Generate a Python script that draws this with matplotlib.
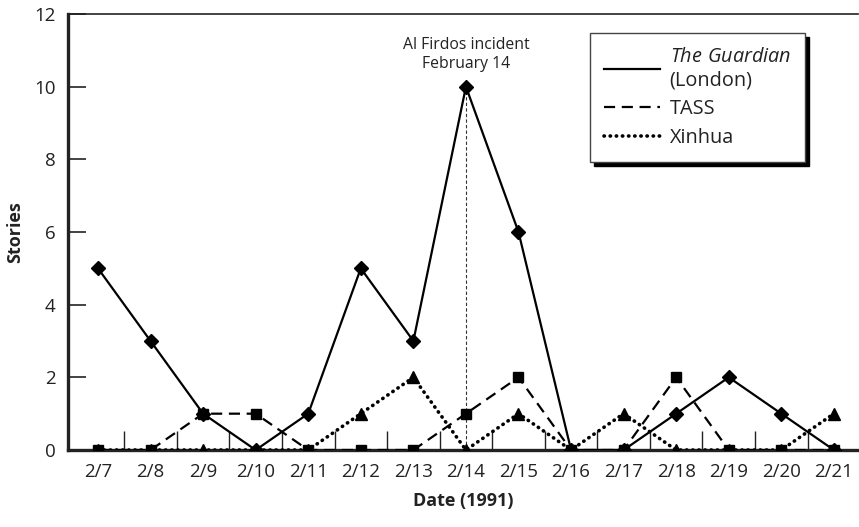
import numpy as np
import matplotlib
matplotlib.use("Agg")
import matplotlib.pyplot as plt
from matplotlib.ticker import MultipleLocator, FixedLocator

plt.rcParams['font.family'] = ['Open Sans', 'DejaVu Sans']
plt.rcParams['mathtext.fontset'] = 'custom'
plt.rcParams['mathtext.it'] = 'Open Sans:italic'
plt.rcParams['mathtext.rm'] = 'Open Sans'

# dados
datas = ['2/7', '2/8', '2/9', '2/10', '2/11', '2/12', '2/13', '2/14',
         '2/15', '2/16', '2/17', '2/18', '2/19', '2/20', '2/21']
guardian = [5, 3, 1, 0, 1, 5, 3, 10, 6, 0, 0, 1, 2, 1, 0]
tass = [0, 0, 1, 1, 0, 0, 0, 1, 2, 0, 0, 2, 0, 0, 0]
xinhua = [0, 0, 0, 0, 0, 1, 2, 0, 1, 0, 1, 0, 0, 0, 1]

x = np.arange(len(datas))

fig = plt.figure(figsize=(8.59, 5.27), dpi=100)
ax = fig.add_axes([0.0792, 0.1461, 0.9197, 0.8273])

ax.plot(x, guardian, color='black', lw=1.6, marker='D', ms=7,
        label='$\\it{The\\ Guardian}$\n(London)', zorder=4)
ax.plot(x, tass, color='black', lw=1.6, ls=(0, (5, 3)), marker='s', ms=7,
        label='TASS', zorder=3)
ax.plot(x, xinhua, color='black', lw=2.6, ls=(0, (0.1, 1.6)),
        dash_capstyle='round', marker='^', ms=8, label='Xinhua', zorder=3)

# linha do incidente
i14 = datas.index('2/14')
ax.plot([x[i14], x[i14]], [0, guardian[i14]], color='#333333', lw=0.8,
        ls=(0, (3, 2)), zorder=2)
ax.text(x[i14], 10.4, 'Al Firdos incident\nFebruary 14', ha='center',
        va='bottom', fontsize=11.3, linespacing=1.3, color='#222222')

ax.set_xlim(-0.57, 14.46)
ax.set_ylim(0, 12)
ax.set_xticks(x)
ax.set_xticklabels(datas)
ax.xaxis.set_minor_locator(FixedLocator(x[:-1] + 0.5))
ax.yaxis.set_major_locator(MultipleLocator(2))

ax.tick_params(axis='x', which='major', length=0, pad=9, labelsize=13.5,
               colors='#222222')
ax.tick_params(axis='x', which='minor', direction='in', length=14, width=1,
               color='#222222')
ax.tick_params(axis='y', which='major', direction='in', length=13, width=1.2,
               pad=9, labelsize=13.5, colors='#222222')

ax.spines['right'].set_visible(False)
ax.spines['top'].set_linewidth(1.2)
ax.spines['left'].set_linewidth(2.4)
ax.spines['bottom'].set_linewidth(2.4)
for s in ax.spines.values():
    s.set_color('#222222')

ax.set_xlabel('Date (1991)', fontsize=13, fontweight='bold', labelpad=8,
              color='#222222')
ax.set_ylabel('Stories', fontsize=13, fontweight='bold', labelpad=7,
              color='#222222')

leg = ax.legend(loc='upper left', bbox_to_anchor=(0.661, 0.956),
                borderaxespad=0, fancybox=False, framealpha=1,
                edgecolor='#444444', fontsize=14.3, handlelength=2.8,
                handletextpad=0.5, labelspacing=0.45, borderpad=0.7,
                shadow={'ox': 3, 'oy': -3, 'color': 'black', 'alpha': 1})
leg.get_frame().set_linewidth(1.0)
for h in leg.legend_handles:
    h.set_marker('')
for t in leg.get_texts():
    t.set_color('#222222')

fig.savefig('out.png', dpi=100)
